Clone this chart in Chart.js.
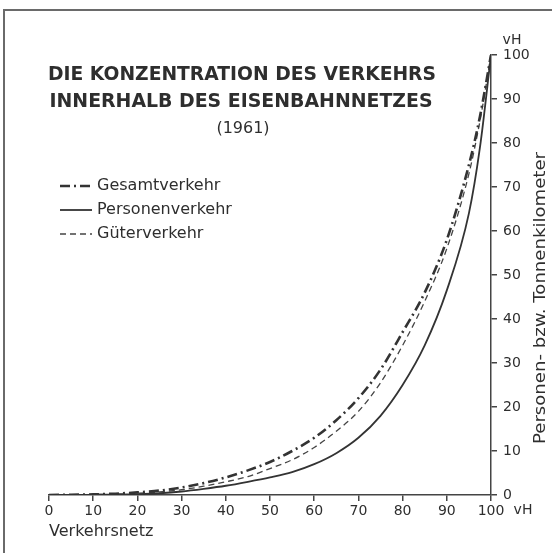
<!DOCTYPE html>
<html>
<head>
<meta charset="utf-8">
<script src="https://cdn.jsdelivr.net/npm/chart.js@4"></script>
<style>
  html, body { margin: 0; padding: 0; background: #fff; }
  canvas { display: block; }
</style>
</head>
<body>
<canvas id="c" width="552" height="553"></canvas>
<script>
// share of network (x, vH) and share of traffic (y, vH)
const netShare = [0, 5, 10, 15, 20, 25, 30, 35, 40, 45, 50, 55, 60, 65, 70, 75, 80, 85, 90, 95, 97.5, 100];
const gesamt   = [0, 0.05, 0.15, 0.3, 0.6, 1.0, 1.7, 2.7, 4, 5.6, 7.5, 10, 13, 17, 22, 28.5, 37, 46, 58, 75, 86, 100];
const personen = [0, 0.02, 0.05, 0.1, 0.2, 0.4, 0.8, 1.4, 2.1, 3, 4, 5.2, 7, 9.5, 13, 18, 25, 34, 46.5, 64, 79, 100];
const gueter   = [0, 0.03, 0.1, 0.2, 0.4, 0.7, 1.2, 2, 3, 4.2, 6, 8, 10.8, 14.5, 19, 25.5, 34, 44, 56, 73, 85, 100];

const seriesNames = ['Gesamtverkehr', 'Personenverkehr', 'Güterverkehr'];
const titleLines = ['DIE KONZENTRATION DES VERKEHRS', 'INNERHALB DES EISENBAHNNETZES', '(1961)'];
const xTitle = 'Verkehrsnetz';
const yTitle = 'Personen- bzw. Tonnenkilometer';
const unit = 'vH';

const INK = '#2e2e2e';
const FONT = '"DejaVu Sans", sans-serif';

const pts = arr => netShare.map((x, i) => ({ x, y: arr[i] }));

// text squeezed/stretched to a given width
function fitText(ctx, txt, cx, cy, w, rot) {
  const m = ctx.measureText(txt).width;
  ctx.save();
  ctx.translate(cx, cy);
  if (rot) ctx.rotate(rot);
  ctx.scale(w / m, 1);
  ctx.fillText(txt, 0, 0);
  ctx.restore();
}

const decor = {
  id: 'decor',
  beforeDraw(chart) {
    const ctx = chart.ctx;
    ctx.save();
    ctx.fillStyle = '#fff';
    ctx.fillRect(0, 0, chart.width, chart.height);
    // frame (left + top only)
    ctx.strokeStyle = '#6a6a6a';
    ctx.lineWidth = 2;
    ctx.beginPath();
    ctx.moveTo(4, chart.height);
    ctx.lineTo(4, 10);
    ctx.lineTo(chart.width, 10);
    ctx.stroke();
    ctx.restore();
  },
  afterDraw(chart) {
    const ctx = chart.ctx;
    const { y } = chart.scales;
    ctx.save();
    ctx.fillStyle = INK;
    ctx.textBaseline = 'middle';
    ctx.textAlign = 'center';

    // title block
    ctx.font = 'bold 19px ' + FONT;
    fitText(ctx, titleLines[0], 242, 75, 388);
    fitText(ctx, titleLines[1], 241, 102, 383);
    ctx.font = '16px ' + FONT;
    ctx.fillText(titleLines[2], 243, 129);

    // legend
    ctx.textAlign = 'left';
    ctx.font = '16px ' + FONT;
    chart.data.datasets.forEach((ds, i) => {
      const ly = 186 + i * 24;
      ctx.save();
      ctx.strokeStyle = ds.borderColor;
      ctx.lineWidth = ds.borderWidth;
      ctx.setLineDash(ds.borderDash || []);
      ctx.beginPath();
      ctx.moveTo(60, ly);
      ctx.lineTo(92, ly);
      ctx.stroke();
      ctx.restore();
      ctx.fillText(ds.label, 97, ly);
    });

    // units
    ctx.textAlign = 'center';
    ctx.font = '14px ' + FONT;
    ctx.fillText(unit, 512, y.getPixelForValue(100) - 15);
    ctx.fillText(unit, 523, 510);

    // right axis title, reading bottom to top
    ctx.font = '16px ' + FONT;
    fitText(ctx, yTitle, 541, 298, 292, -Math.PI / 2);
    ctx.restore();
  }
};

new Chart(document.getElementById('c'), {
  type: 'line',
  data: {
    datasets: [
      { label: seriesNames[0], data: pts(gesamt), borderColor: '#333', borderWidth: 2.6, borderDash: [10, 4, 2, 4] },
      { label: seriesNames[1], data: pts(personen), borderColor: '#333', borderWidth: 1.8 },
      { label: seriesNames[2], data: pts(gueter), borderColor: '#444', borderWidth: 1.3, borderDash: [6, 4] }
    ]
  },
  options: {
    responsive: false, animation: false,
    layout: { padding: { left: 49, top: 55, right: 0, bottom: 0 } },
    elements: { point: { radius: 0 }, line: { cubicInterpolationMode: 'monotone', fill: false } },
    plugins: { legend: { display: false }, tooltip: { enabled: false } },
    scales: {
      x: {
        type: 'linear', min: 0, max: 100,
        afterFit: s => { s.height = 58; },
        ticks: { stepSize: 10, color: INK, font: { family: FONT, size: 14 }, padding: 2, maxRotation: 0 },
        grid: { drawOnChartArea: false, tickLength: 6, color: '#444', lineWidth: 1.5 },
        border: { color: '#444', width: 1.5 },
        title: { display: true, text: xTitle, align: 'start', color: INK, font: { family: FONT, size: 16 }, padding: { top: 0, bottom: 12 } }
      },
      y: {
        position: 'right', min: 0, max: 100,
        afterFit: s => { s.width = 61; },
        ticks: { stepSize: 10, color: INK, font: { family: FONT, size: 14 }, padding: 6 },
        grid: { drawOnChartArea: false, tickLength: 6, color: '#444', lineWidth: 1.5 },
        border: { color: '#444', width: 1.5 }
      }
    }
  },
  plugins: [decor]
});
</script>
</body>
</html>
